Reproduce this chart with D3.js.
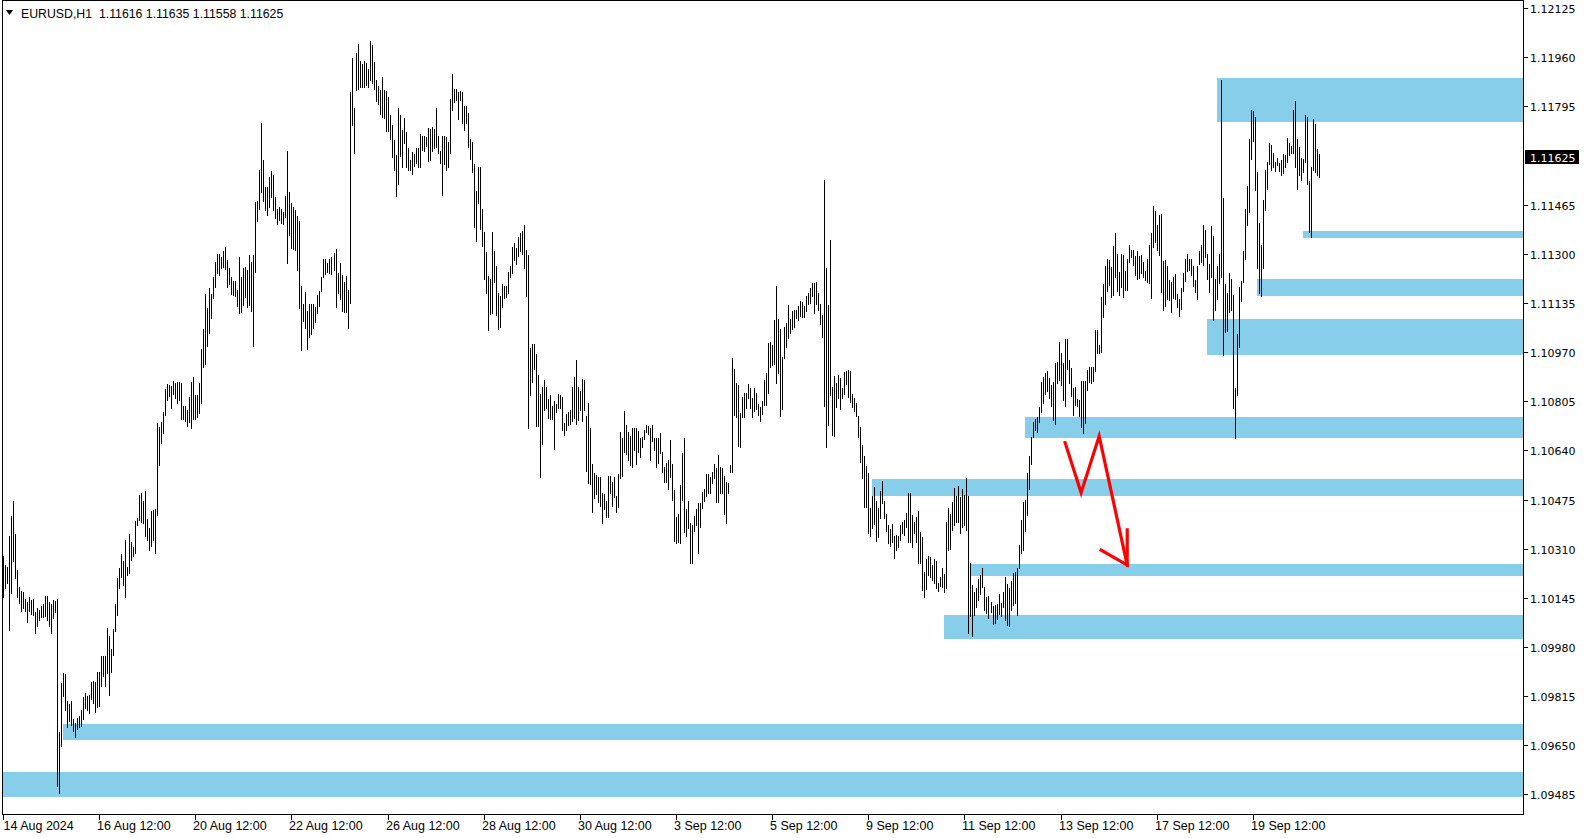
<!DOCTYPE html>
<html><head><meta charset="utf-8">
<script src="https://cdn.jsdelivr.net/npm/d3@7"></script>
<style>body{margin:0;background:#fff;}svg{display:block;}</style>
</head><body>
<svg id="c" width="1587" height="838"></svg>
<script>
const symbolTitle = "EURUSD,H1";
const lastOHLC = [1.11616, 1.11635, 1.11558, 1.11625];
const currentPrice = 1.11625;

const highs = [
1.10284,1.10256,1.10250,1.10351,1.10420,1.10471,1.10360,1.10239,1.10183,1.10169,
1.10163,1.10140,1.10132,1.10149,1.10138,1.10140,1.10099,1.10110,1.10104,1.10118,
1.10125,1.10151,1.10151,1.10132,1.10125,1.10138,1.10136,1.10140,1.09696,1.09858,
1.09892,1.09889,1.09797,1.09789,1.09797,1.09737,1.09724,1.09741,1.09749,1.09769,
1.09811,1.09825,1.09816,1.09819,1.09861,1.09867,1.09861,1.09896,1.09896,1.09948,
1.09948,1.09948,1.10043,1.10017,1.09972,1.10040,1.10125,1.10211,1.10244,1.10292,
1.10267,1.10339,1.10250,1.10360,1.10334,1.10315,1.10404,1.10412,1.10491,1.10498,
1.10471,1.10504,1.10409,1.10379,1.10435,1.10440,1.10442,1.10733,1.10719,1.10736,
1.10770,1.10845,1.10863,1.10859,1.10856,1.10874,1.10865,1.10870,1.10870,1.10867,
1.10789,1.10789,1.10775,1.10820,1.10870,1.10887,1.10826,1.10826,1.10865,1.10982,
1.11046,1.11165,1.11117,1.11184,1.11165,1.11221,1.11271,1.11301,1.11299,1.11290,
1.11310,1.11324,1.11279,1.11251,1.11223,1.11210,1.11210,1.11178,1.11288,1.11223,
1.11251,1.11257,1.11245,1.11296,1.11273,1.11296,1.11475,1.11478,1.11581,1.11740,
1.11615,1.11523,1.11523,1.11559,1.11579,1.11564,1.11492,1.11452,1.11456,1.11452,
1.11441,1.11494,1.11646,1.11508,1.11469,1.11458,1.11447,1.11427,1.11411,1.11192,
1.11133,1.11173,1.11109,1.11131,1.11131,1.11131,1.11120,1.11161,1.11176,1.11223,
1.11281,1.11283,1.11270,1.11281,1.11288,1.11304,1.11317,1.11236,1.11270,1.11229,
1.11206,1.11225,1.11178,1.11844,1.11959,1.11788,1.11975,1.12004,1.11948,1.11937,
1.11948,1.11939,1.11919,1.12015,1.12001,1.11945,1.11885,1.11863,1.11850,1.11892,
1.11850,1.11847,1.11825,1.11766,1.11732,1.11682,1.11631,1.11788,1.11766,1.11715,
1.11755,1.11710,1.11654,1.11615,1.11643,1.11635,1.11654,1.11654,1.11702,1.11695,
1.11695,1.11693,1.11721,1.11718,1.11727,1.11718,1.11788,1.11695,1.11646,1.11695,
1.11695,1.11693,1.11676,1.11821,1.11903,1.11855,1.11855,1.11844,1.11847,1.11843,
1.11796,1.11796,1.11773,1.11687,1.11676,1.11603,1.11511,1.11590,1.11592,1.11452,
1.11374,1.11307,1.11225,1.11217,1.11374,1.11310,1.11259,1.11169,1.11158,1.11198,
1.11191,1.11191,1.11239,1.11259,1.11323,1.11337,1.11321,1.11357,1.11370,1.11377,
1.11396,1.11312,1.11295,1.10985,1.10997,1.10997,1.10965,1.10893,1.10829,1.10853,
1.10876,1.10853,1.10811,1.10825,1.10789,1.10806,1.10797,1.10829,1.10825,1.10818,
1.10733,1.10762,1.10770,1.10775,1.10853,1.10887,1.10945,1.10853,1.10840,1.10881,
1.10876,1.10755,1.10800,1.10714,1.10594,1.10565,1.10557,1.10549,1.10549,1.10498,
1.10493,1.10471,1.10554,1.10554,1.10535,1.10549,1.10486,1.10560,1.10702,1.10683,
1.10773,1.10725,1.10702,1.10688,1.10714,1.10714,1.10714,1.10706,1.10680,1.10686,
1.10710,1.10725,1.10721,1.10714,1.10725,1.10680,1.10683,1.10680,1.10699,1.10635,
1.10583,1.10596,1.10609,1.10675,1.10594,1.10507,1.10417,1.10426,1.10524,1.10632,
1.10680,1.10442,1.10471,1.10397,1.10389,1.10420,1.10442,1.10464,1.10464,1.10501,
1.10512,1.10561,1.10561,1.10552,1.10568,1.10594,1.10580,1.10624,1.10585,1.10580,
1.10554,1.10535,1.10529,1.10591,1.10949,1.10912,1.10865,1.10859,1.10764,1.10820,
1.10834,1.10834,1.10863,1.10851,1.10815,1.10851,1.10834,1.10796,1.10787,1.10807,
1.10878,1.10901,1.11001,1.11005,1.10994,1.11077,1.11192,1.11080,1.11046,1.10952,
1.11053,1.11068,1.11128,1.11080,1.11109,1.11111,1.11113,1.11124,1.11142,1.11139,
1.11124,1.11158,1.11169,1.11184,1.11203,1.11203,1.11206,1.11167,1.11133,1.11094,
1.11547,1.11254,1.11128,1.11348,1.10854,1.10889,1.10865,1.10893,1.10882,1.10851,
1.10904,1.10907,1.10910,1.10907,1.10829,1.10815,1.10800,1.10755,1.10717,1.10658,
1.10621,1.10587,1.10563,1.10445,1.10487,1.10518,1.10471,1.10445,1.10505,1.10538,
1.10471,1.10426,1.10389,1.10375,1.10393,1.10353,1.10356,1.10351,1.10390,1.10401,
1.10407,1.10429,1.10496,1.10496,1.10423,1.10401,1.10418,1.10438,1.10367,1.10348,
1.10233,1.10275,1.10286,1.10281,1.10256,1.10275,1.10267,1.10194,1.10216,1.10244,
1.10225,1.10401,1.10446,1.10427,1.10468,1.10513,1.10487,1.10519,1.10485,1.10510,
1.10491,1.10547,1.10487,1.10261,1.10188,1.10166,1.10177,1.10207,1.10222,1.10244,
1.10183,1.10149,1.10152,1.10132,1.10118,1.10121,1.10125,1.10158,1.10129,1.10163,
1.10216,1.10192,1.10177,1.10200,1.10230,1.10233,1.10244,1.10323,1.10407,1.10468,
1.10472,1.10563,1.10621,1.10686,1.10737,1.10745,1.10751,1.10787,1.10868,1.10886,
1.10899,1.10905,1.10882,1.10860,1.10871,1.10935,1.10938,1.11005,1.10968,1.10933,
1.11013,1.11013,1.10944,1.10916,1.10849,1.10854,1.10812,1.10809,1.10874,1.10874,
1.10874,1.10910,1.10921,1.10921,1.10921,1.11044,1.11044,1.10994,1.11156,1.11198,
1.11259,1.11284,1.11279,1.11256,1.11326,1.11370,1.11301,1.11239,1.11299,1.11295,
1.11243,1.11281,1.11329,1.11314,1.11312,1.11292,1.11310,1.11292,1.11295,1.11273,
1.11243,1.11284,1.11329,1.11370,1.11460,1.11444,1.11396,1.11430,1.11433,1.11276,
1.11279,1.11259,1.11212,1.11206,1.11223,1.11232,1.11165,1.11147,1.11184,1.11234,
1.11281,1.11301,1.11281,1.11281,1.11259,1.11212,1.11259,1.11310,1.11329,1.11396,
1.11381,1.11299,1.11267,1.11393,1.11359,1.11217,1.11259,1.11301,1.11885,1.11486,
1.11198,1.11169,1.11234,1.11214,1.11161,1.10851,1.11032,1.11187,1.11209,1.11310,
1.11449,1.11527,1.11687,1.11784,1.11780,1.11758,1.11575,1.11402,1.11329,1.11482,
1.11581,1.11609,1.11673,1.11665,1.11637,1.11609,1.11623,1.11605,1.11614,1.11634,
1.11631,1.11690,1.11673,1.11661,1.11782,1.11814,1.11687,1.11657,1.11623,1.11620,
1.11765,1.11760,1.11545,1.11590,1.11754,1.11737,1.11653,1.11635
];

const lows = [
1.10149,1.10177,1.10196,1.10037,1.10160,1.10267,1.10211,1.10149,1.10127,1.10102,
1.10110,1.10102,1.10065,1.10102,1.10091,1.10088,1.10026,1.10052,1.10069,1.10082,
1.10079,1.10084,1.10069,1.10049,1.10028,1.10077,1.10096,1.09514,1.09491,1.09646,
1.09814,1.09769,1.09711,1.09733,1.09718,1.09699,1.09677,1.09704,1.09711,1.09713,
1.09737,1.09774,1.09767,1.09758,1.09805,1.09793,1.09763,1.09780,1.09782,1.09849,
1.09883,1.09849,1.09892,1.09819,1.09897,1.09953,1.10032,1.10088,1.10177,1.10216,
1.10188,1.10149,1.10222,1.10228,1.10272,1.10284,1.10297,1.10390,1.10407,1.10401,
1.10395,1.10351,1.10339,1.10304,1.10319,1.10339,1.10297,1.10423,1.10591,1.10666,
1.10699,1.10759,1.10809,1.10822,1.10781,1.10829,1.10815,1.10798,1.10809,1.10747,
1.10744,1.10740,1.10722,1.10736,1.10714,1.10744,1.10744,1.10751,1.10764,1.10800,
1.10919,1.10930,1.10990,1.11035,1.11083,1.11150,1.11187,1.11234,1.11229,1.11251,
1.11257,1.11248,1.11187,1.11198,1.11165,1.11161,1.11158,1.11125,1.11100,1.11105,
1.11128,1.11156,1.11120,1.11128,1.11109,1.10990,1.11240,1.11411,1.11452,1.11508,
1.11478,1.11447,1.11430,1.11456,1.11492,1.11447,1.11419,1.11400,1.11413,1.11402,
1.11400,1.11424,1.11268,1.11363,1.11318,1.11315,1.11313,1.11245,1.11117,1.10977,
1.11075,1.11050,1.10982,1.11022,1.11031,1.11050,1.11072,1.11102,1.11125,1.11176,
1.11223,1.11232,1.11240,1.11234,1.11232,1.11245,1.11120,1.11167,1.11147,1.11109,
1.11105,1.11105,1.11050,1.11136,1.11732,1.11639,1.11850,1.11855,1.11861,1.11859,
1.11861,1.11866,1.11859,1.11885,1.11872,1.11855,1.11814,1.11803,1.11771,1.11758,
1.11755,1.11713,1.11713,1.11687,1.11626,1.11581,1.11494,1.11536,1.11628,1.11592,
1.11671,1.11592,1.11583,1.11581,1.11568,1.11594,1.11606,1.11592,1.11592,1.11648,
1.11646,1.11662,1.11612,1.11615,1.11646,1.11654,1.11657,1.11637,1.11606,1.11497,
1.11601,1.11583,1.11590,1.11637,1.11782,1.11810,1.11818,1.11754,1.11818,1.11740,
1.11715,1.11740,1.11659,1.11617,1.11575,1.11391,1.11344,1.11471,1.11385,1.11326,
1.11217,1.11169,1.11044,1.11097,1.11102,1.11206,1.11094,1.11049,1.11053,1.11120,
1.11153,1.11156,1.11167,1.11223,1.11236,1.11279,1.11267,1.11292,1.11310,1.11299,
1.11251,1.11158,1.10714,1.10825,1.10870,1.10912,1.10721,1.10721,1.10551,1.10663,
1.10777,1.10781,1.10750,1.10747,1.10744,1.10646,1.10770,1.10781,1.10781,1.10710,
1.10691,1.10708,1.10725,1.10730,1.10739,1.10750,1.10730,1.10742,1.10777,1.10739,
1.10775,1.10571,1.10531,1.10527,1.10434,1.10479,1.10493,1.10467,1.10453,1.10397,
1.10442,1.10415,1.10415,1.10498,1.10453,1.10482,1.10434,1.10451,1.10546,1.10554,
1.10635,1.10627,1.10609,1.10590,1.10583,1.10643,1.10594,1.10635,1.10618,1.10650,
1.10677,1.10702,1.10695,1.10609,1.10672,1.10643,1.10585,1.10596,1.10632,1.10568,
1.10535,1.10535,1.10509,1.10552,1.10473,1.10337,1.10328,1.10333,1.10330,1.10473,
1.10367,1.10352,1.10378,1.10261,1.10261,1.10370,1.10389,1.10294,1.10384,1.10445,
1.10471,1.10487,1.10498,1.10498,1.10529,1.10546,1.10468,1.10468,1.10498,1.10496,
1.10426,1.10395,1.10496,1.10568,1.10568,1.10759,1.10753,1.10655,1.10650,1.10751,
1.10751,1.10784,1.10815,1.10784,1.10751,1.10773,1.10778,1.10759,1.10740,1.10762,
1.10792,1.10792,1.10834,1.10921,1.10926,1.10930,1.10867,1.10901,1.10755,1.10778,
1.10949,1.10988,1.11019,1.11033,1.11046,1.11053,1.11086,1.11077,1.11091,1.11089,
1.11089,1.11109,1.11133,1.11136,1.11158,1.11102,1.11133,1.11111,1.11064,1.11021,
1.10789,1.10652,1.10725,1.10826,1.10691,1.10688,1.10786,1.10815,1.10778,1.10815,
1.10829,1.10863,1.10820,1.10803,1.10786,1.10773,1.10755,1.10686,1.10602,1.10546,
1.10451,1.10449,1.10364,1.10352,1.10381,1.10393,1.10337,1.10350,1.10412,1.10462,
1.10412,1.10370,1.10330,1.10319,1.10334,1.10278,1.10306,1.10317,1.10340,1.10362,
1.10356,1.10384,1.10334,1.10331,1.10317,1.10362,1.10334,1.10263,1.10261,1.10172,
1.10149,1.10174,1.10222,1.10216,1.10205,1.10194,1.10177,1.10169,1.10185,1.10183,
1.10163,1.10177,1.10306,1.10308,1.10373,1.10390,1.10401,1.10401,1.10362,1.10384,
1.10390,1.10373,1.10028,1.10084,1.10017,1.10088,1.10113,1.10138,1.10158,1.10183,
1.10105,1.10093,1.10077,1.10099,1.10058,1.10062,1.10073,1.10091,1.10084,1.10113,
1.10071,1.10054,1.10051,1.10105,1.10121,1.10127,1.10088,1.10244,1.10295,1.10306,
1.10371,1.10423,1.10510,1.10595,1.10684,1.10707,1.10703,1.10737,1.10770,1.10798,
1.10830,1.10841,1.10815,1.10789,1.10742,1.10729,1.10865,1.10877,1.10860,1.10809,
1.10789,1.10912,1.10865,1.10821,1.10759,1.10793,1.10789,1.10754,1.10720,1.10698,
1.10731,1.10843,1.10868,1.10865,1.10874,1.10905,1.10966,1.10966,1.10972,1.11088,
1.11131,1.11176,1.11195,1.11156,1.11161,1.11223,1.11176,1.11161,1.11189,1.11156,
1.11178,1.11180,1.11273,1.11290,1.11262,1.11228,1.11217,1.11220,1.11236,1.11223,
1.11212,1.11206,1.11203,1.11153,1.11323,1.11340,1.11314,1.11295,1.11172,1.11111,
1.11124,1.11147,1.11144,1.11105,1.11150,1.11147,1.11120,1.11091,1.11116,1.11176,
1.11209,1.11243,1.11245,1.11228,1.11191,1.11172,1.11147,1.11265,1.11273,1.11262,
1.11290,1.11217,1.11172,1.11223,1.11077,1.11111,1.11147,1.11203,1.11223,1.10960,
1.11038,1.11041,1.11105,1.11111,1.10781,1.10680,1.10825,1.10988,1.11142,1.11206,
1.11281,1.11396,1.11441,1.11617,1.11679,1.11514,1.11251,1.11169,1.11158,1.11251,
1.11446,1.11516,1.11603,1.11581,1.11592,1.11579,1.11598,1.11579,1.11564,1.11570,
1.11590,1.11609,1.11631,1.11637,1.11639,1.11590,1.11519,1.11564,1.11549,1.11575,
1.11609,1.11536,1.11374,1.11355,1.11581,1.11575,1.11564,1.11558
];

const priceTicks = [1.12125,1.11960,1.11795,1.11465,1.11300,1.11135,1.10970,1.10805,1.10640,1.10475,1.10310,1.10145,1.09980,1.09815,1.09650,1.09485];
const timeTickIndex = [0,48,96,144,192,240,288,336,384,432,480,528,576,624];
const timeTickLabels = ["14 Aug 2024","16 Aug 12:00","20 Aug 12:00","22 Aug 12:00","26 Aug 12:00","28 Aug 12:00","30 Aug 12:00","3 Sep 12:00","5 Sep 12:00","9 Sep 12:00","11 Sep 12:00","13 Sep 12:00","17 Sep 12:00","19 Sep 12:00"];

// supply / demand zones: start bar index, upper and lower price (extend to right edge)
const zoneStart  = [606, 649, 626, 601, 510, 434, 483, 470, 30, 0];
const zoneTop    = [1.11890,1.11376,1.11215,1.11081,1.10752,1.10544,1.10258,1.10087,1.09721,1.09560];
const zoneBottom = [1.11742,1.11354,1.11158,1.10960,1.10682,1.10487,1.10218,1.10006,1.09668,1.09477];

// red zig-zag arrow annotation
const arrowIdx   = [530, 538, 547, 561];
const arrowPrice = [1.10666, 1.10498, 1.10688, 1.10255];
const arrowHeadIdx   = [548, 561, 561];
const arrowHeadPrice = [1.10305, 1.10255, 1.10373];

const svg = d3.select("#c");
const plot = {left: 2.5, right: 1523.5, top: 0.5, bottom: 814.5};
const x = d3.scaleLinear().domain([0, highs.length - 1]).range([3.5, 1319.5]);
const y = d3.scaleLinear().domain([1.09485, 1.12125]).range([794.4, 8.1]);

svg.append("rect").attr("width", 1587).attr("height", 838).attr("fill", "#fff");

// zones
const zg = svg.append("g").attr("shape-rendering", "crispEdges");
zoneStart.forEach((s, i) => {
  const x0 = Math.max(plot.left + 0.5, Math.floor(x(s)));
  const yt = Math.round(y(zoneTop[i]));
  const yb = Math.round(y(zoneBottom[i]));
  zg.append("rect").attr("x", x0).attr("y", yt)
    .attr("width", plot.right - x0).attr("height", Math.max(1, yb - yt))
    .attr("fill", "#87CEEB");
});

// bars (high-low)
const bg = svg.append("g").attr("shape-rendering", "crispEdges");
highs.forEach((h, i) => {
  const yt = Math.round(y(h));
  const yb = Math.round(y(lows[i]));
  bg.append("rect").attr("x", Math.floor(x(i))).attr("y", yt)
    .attr("width", 1).attr("height", Math.max(1, yb - yt + 1)).attr("fill", "#000");
});

// arrow
const line = d3.line().x(d => x(d[0])).y(d => y(d[1]));
svg.append("path").attr("d", line(arrowIdx.map((v, i) => [v, arrowPrice[i]])))
  .attr("fill", "none").attr("stroke", "#ff0000").attr("stroke-width", 3.2)
  .attr("stroke-linejoin", "miter").attr("stroke-linecap", "square");
svg.append("path").attr("d", line(arrowHeadIdx.map((v, i) => [v, arrowHeadPrice[i]])))
  .attr("fill", "none").attr("stroke", "#ff0000").attr("stroke-width", 3.2)
  .attr("stroke-linejoin", "miter").attr("stroke-linecap", "square");

// frame
svg.append("rect").attr("x", plot.left).attr("y", plot.top)
  .attr("width", plot.right - plot.left).attr("height", plot.bottom - plot.top)
  .attr("fill", "none").attr("stroke", "#000").attr("stroke-width", 1)
  .attr("shape-rendering", "crispEdges");

// price axis
const pg = svg.append("g");
priceTicks.forEach(v => {
  const yy = Math.round(y(v)) + 0.5;
  pg.append("line").attr("x1", plot.right).attr("x2", plot.right + 4)
    .attr("y1", yy).attr("y2", yy).attr("stroke", "#000").attr("shape-rendering", "crispEdges");
  pg.append("text").attr("x", 1530).attr("y", yy + 4)
    .attr("font-family", "DejaVu Sans").attr("font-size", 11).attr("fill", "#000")
    .text(v.toFixed(5));
});
const cy = Math.round(y(currentPrice));
pg.append("rect").attr("x", 1525).attr("y", cy - 7).attr("width", 54).attr("height", 14).attr("fill", "#000");
pg.append("text").attr("x", 1530).attr("y", cy + 4.5)
  .attr("font-family", "DejaVu Sans").attr("font-size", 11).attr("fill", "#fff")
  .text(currentPrice.toFixed(5));

// time axis
const tg = svg.append("g");
timeTickIndex.forEach((t, i) => {
  const xx = Math.floor(x(t)) + 0.5;
  tg.append("line").attr("x1", xx).attr("x2", xx).attr("y1", plot.bottom).attr("y2", plot.bottom + 5)
    .attr("stroke", "#000").attr("shape-rendering", "crispEdges");
  tg.append("text").attr("x", i === 0 ? xx : xx - 2.5).attr("y", 829.5)
    .attr("font-family", "Liberation Sans").attr("font-size", 12.5).attr("fill", "#000")
    .text(timeTickLabels[i]);
});

// header
svg.append("path").attr("d", "M6,10 L13,10 L9.5,15 Z").attr("fill", "#000");
svg.append("text").attr("x", 21).attr("y", 17.5)
  .attr("font-family", "Liberation Sans").attr("font-size", 12.3).attr("fill", "#000")
  .attr("xml:space", "preserve").style("white-space", "pre")
  .text(symbolTitle + "  " + lastOHLC.map(v => v.toFixed(5)).join(" "));
</script>
</body></html>
